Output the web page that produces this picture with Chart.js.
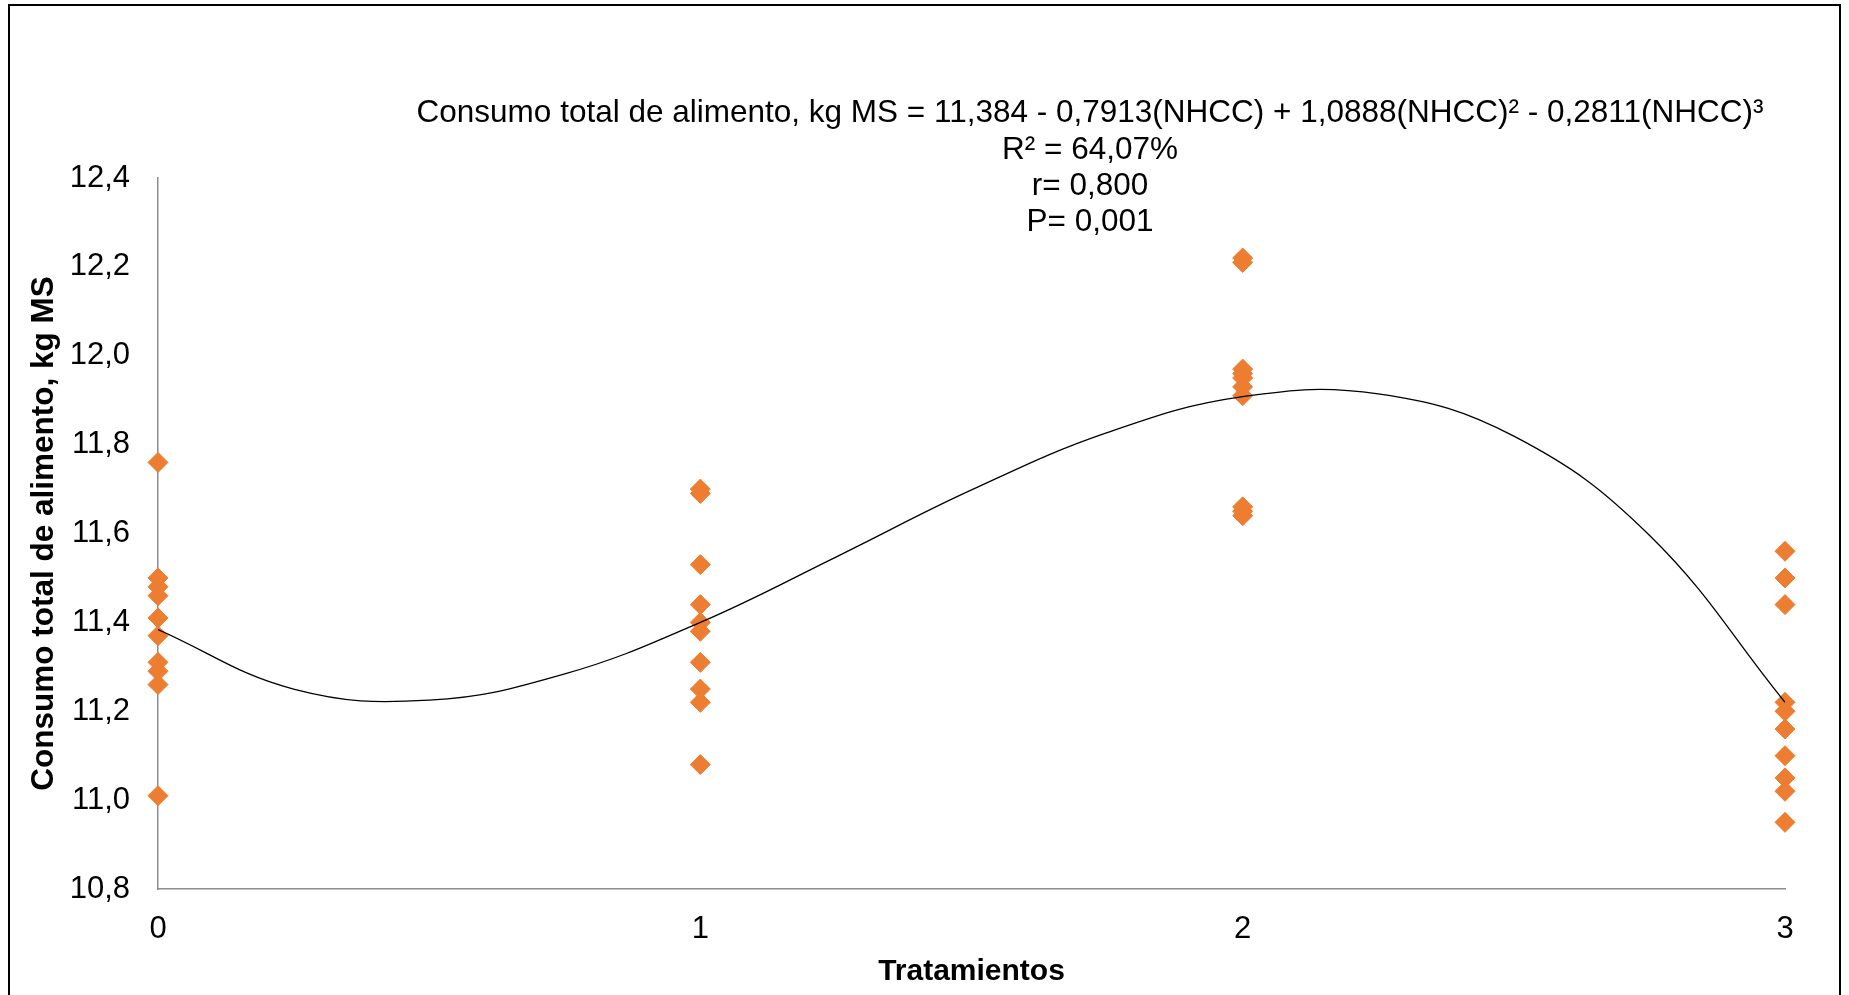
<!DOCTYPE html>
<html>
<head>
<meta charset="utf-8">
<script src="https://cdn.jsdelivr.net/npm/chart.js@4.4.1/dist/chart.umd.min.js"></script>
<style>
    html, body { margin: 0; padding: 0; background: #fff; }
    #frame {
        position: absolute; left: 8px; top: 4px; width: 1829px; height: 1100px;
        border: 2px solid #000; border-bottom: none;
    }
    #chart { position: absolute; left: 0; top: 0; }
</style>
</head>
<body>
<div id="frame"></div>
<canvas id="chart" width="1849" height="995"></canvas>
<script>
// treatments on the x axis
const treatments = [0, 1, 2, 3]

// consumo total de alimento (kg MS) per animal
const consumoT0 = [11.76, 11.50, 11.48, 11.46, 11.41, 11.37, 11.31, 11.29, 11.26, 11.01]
const consumoT1 = [11.70, 11.69, 11.53, 11.44, 11.40, 11.38, 11.31, 11.25, 11.22, 11.08]
const consumoT2 = [12.22, 12.21, 11.97, 11.96, 11.95, 11.93, 11.91, 11.66, 11.65, 11.64]
const consumoT3 = [11.56, 11.50, 11.44, 11.22, 11.20, 11.16, 11.10, 11.05, 11.02, 10.95]

// fitted cubic curve, sampled along x
const curveX = [0, 0.25, 0.5, 0.75, 1, 1.25, 1.5, 1.75, 2, 2.25, 2.5, 2.75, 3]
const curveY = [11.384, 11.250, 11.225, 11.284, 11.400, 11.547, 11.698, 11.827, 11.908, 11.914, 11.819, 11.596, 11.220]

const yTicks = { min: 10.8, max: 12.4, step: 0.2 }

const annotationLines = [
    'Consumo total de alimento, kg MS = 11,384 - 0,7913(NHCC) + 1,0888(NHCC)² - 0,2811(NHCC)³',
    'R² = 64,07%',
    'r= 0,800',
    'P= 0,001'
]
const yTitle = 'Consumo total de alimento, kg MS'
const xTitle = 'Tratamientos'

const ORANGE = '#ED7D31'
const AXIS = '#8c8c8c'
const FONT = '"Liberation Sans", Arial, sans-serif'

const allSeries = [consumoT0, consumoT1, consumoT2, consumoT3]
const scatterPoints = []
allSeries.forEach((values, i) => {
    for (const v of values) scatterPoints.push({ x: treatments[i], y: v })
})
const curvePoints = curveX.map((x, i) => ({ x, y: curveY[i] }))

// equation + stats text above the plot
const annotationPlugin = {
    id: 'annotation',
    afterDraw(chart) {
        const ctx = chart.ctx
        ctx.save()
        ctx.fillStyle = '#000'
        ctx.font = '31.5px ' + FONT
        ctx.textAlign = 'center'
        ctx.textBaseline = 'middle'
        const cx = 1090
        const ys = [113, 150, 186, 222]
        annotationLines.forEach((t, i) => ctx.fillText(t, cx, ys[i]))
        ctx.restore()
    }
}

new Chart(document.getElementById('chart'), {
    type: 'scatter',
    data: {
        datasets: [
            {
                type: 'line',
                data: curvePoints,
                borderColor: '#000',
                borderWidth: 1.3,
                pointRadius: 0,
                tension: 0.4,
                fill: false
            },
            {
                data: scatterPoints,
                clip: false,
                pointStyle: 'rectRot',
                pointRadius: 10,
                pointBackgroundColor: ORANGE,
                pointBorderColor: ORANGE,
                pointBorderWidth: 1
            }
        ]
    },
    options: {
        responsive: false,
        animation: false,
        devicePixelRatio: 1,
        layout: { padding: { left: 0, top: 178, right: 64, bottom: 0 } },
        plugins: { legend: { display: false }, tooltip: { enabled: false } },
        scales: {
            x: {
                type: 'linear',
                min: 0,
                max: 3,
                grid: { display: false, drawTicks: false },
                border: { display: true, color: AXIS, width: 1.5 },
                ticks: { stepSize: 1, color: '#000', font: { size: 31, family: FONT }, padding: 22 },
                title: {
                    display: true, text: xTitle, color: '#000',
                    font: { size: 30, weight: 'bold', family: FONT },
                    padding: { top: 0, bottom: 5 }
                },
                afterFit(scale) { scale.height = 106 }
            },
            y: {
                min: yTicks.min,
                max: yTicks.max,
                grid: { display: false, drawTicks: false },
                border: { display: true, color: AXIS, width: 1.5 },
                ticks: {
                    stepSize: yTicks.step,
                    color: '#000',
                    font: { size: 31, family: FONT },
                    padding: 28,
                    callback: v => v.toFixed(1).replace('.', ',')
                },
                title: {
                    display: true, text: yTitle, color: '#000',
                    font: { size: 31.5, weight: 'bold', family: FONT },
                    padding: { top: 25, bottom: 0 }
                },
                afterFit(scale) { scale.width = 158 }
            }
        }
    },
    plugins: [annotationPlugin]
})
</script>
</body>
</html>
